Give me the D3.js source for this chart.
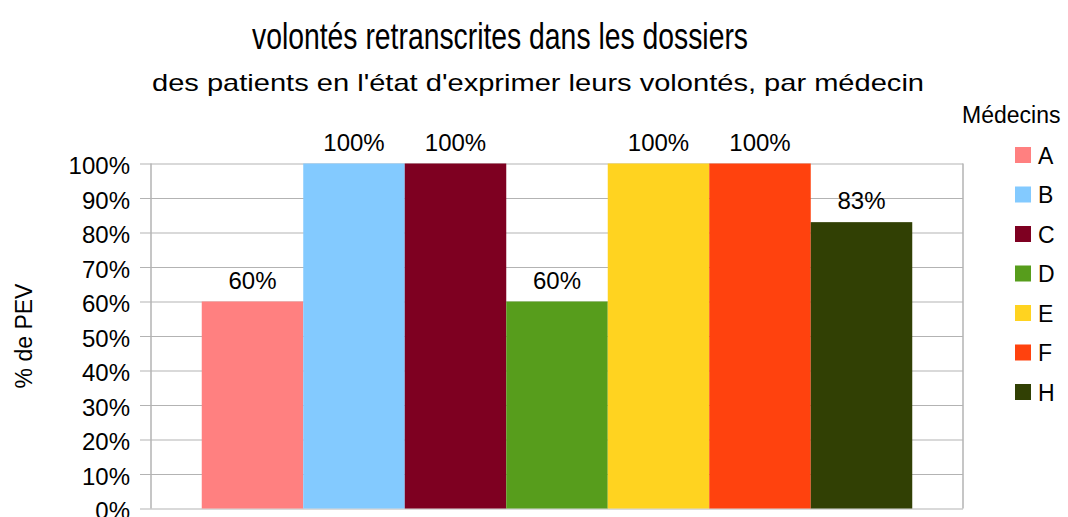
<!DOCTYPE html>
<html>
<head>
<meta charset="utf-8">
<script src="https://cdn.jsdelivr.net/npm/d3@7"></script>
<style>
  body { margin: 0; background: #fff; }
  svg { display: block; font-family: "Liberation Sans", Arial, sans-serif; }
</style>
</head>
<body>
<svg id="chart" width="1068" height="517"></svg>
<script>
// data
var medecins = ["A", "B", "C", "D", "E", "F", "H"];
var valeurs = [60, 100, 100, 60, 100, 100, 83];
var couleurs = ["#ff8080", "#83caff", "#7e0021", "#579d1c", "#ffd320", "#ff420e", "#314004"];
var yTicks = [0, 10, 20, 30, 40, 50, 60, 70, 80, 90, 100];

var titre = "volontés retranscrites dans les dossiers";
var sousTitre = "des patients en l'état d'exprimer leurs volontés, par médecin";
var titreAxeY = "% de PEV";
var titreLegende = "Médecins";

var svg = d3.select("#chart");

var plot = {left: 151, right: 963, top: 163.5, bottom: 508.5};

var x = d3.scaleBand()
          .domain(medecins)
          .range([plot.left, plot.right])
          .paddingInner(0)
          .paddingOuter(0.5);

var y = d3.scaleLinear()
          .domain([0, 100])
          .range([plot.bottom, plot.top]);

// titles
svg.append("text")
   .attr("x", 252)
   .attr("y", 49)
   .attr("font-size", 36.5)
   .attr("textLength", 496)
   .attr("lengthAdjust", "spacingAndGlyphs")
   .text(titre);

svg.append("text")
   .attr("x", 152)
   .attr("y", 91)
   .attr("font-size", 24)
   .attr("textLength", 772)
   .attr("lengthAdjust", "spacingAndGlyphs")
   .text(sousTitre);

// grid + y axis
var yAxis = d3.axisLeft(y)
              .tickValues(yTicks)
              .tickSize(plot.right - plot.left + 11)
              .tickPadding(10)
              .tickFormat(function(d){ return d + "%"; });

var gy = svg.append("g")
            .attr("transform", "translate(" + plot.right + ",0)")
            .call(yAxis);

gy.select(".domain").remove();
gy.selectAll(".tick line")
  .attr("stroke", "#b3b3b3")
  .attr("stroke-width", 1);
gy.selectAll(".tick text")
  .attr("x", -(plot.right - plot.left + 11) - 10)
  .attr("dy", "0.42em")
  .attr("font-size", 24)
  .attr("font-family", "Liberation Sans, Arial, sans-serif")
  .attr("fill", "#000");

// plot frame sides
svg.append("line")
   .attr("x1", plot.left).attr("x2", plot.left)
   .attr("y1", plot.top).attr("y2", plot.bottom)
   .attr("stroke", "#b3b3b3").attr("stroke-width", 1.5);
svg.append("line")
   .attr("x1", plot.right).attr("x2", plot.right)
   .attr("y1", plot.top).attr("y2", plot.bottom)
   .attr("stroke", "#b3b3b3").attr("stroke-width", 1.5);

// bars
var data = medecins.map(function(m, i){
  return {m: m, v: valeurs[i], c: couleurs[i]};
});

svg.append("g")
   .selectAll("rect")
   .data(data)
   .enter()
   .append("rect")
   .attr("x", function(d){ return x(d.m); })
   .attr("y", function(d){ return y(d.v); })
   .attr("width", x.bandwidth())
   .attr("height", function(d){ return y(0) - y(d.v); })
   .attr("fill", function(d){ return d.c; });

// value labels
svg.append("g")
   .selectAll("text")
   .data(data)
   .enter()
   .append("text")
   .attr("x", function(d){ return x(d.m) + x.bandwidth() / 2; })
   .attr("y", function(d){ return y(d.v) - 13; })
   .attr("text-anchor", "middle")
   .attr("font-size", 24)
   .text(function(d){ return d.v + "%"; });

// y axis title
svg.append("text")
   .attr("transform", "translate(32," + ((plot.top + plot.bottom) / 2) + ") rotate(-90)")
   .attr("text-anchor", "middle")
   .attr("font-size", 23)
   .text(titreAxeY);

// legend
svg.append("text")
   .attr("x", 962)
   .attr("y", 123)
   .attr("font-size", 23)
   .text(titreLegende);

var leg = svg.append("g")
             .selectAll("g")
             .data(data)
             .enter()
             .append("g")
             .attr("transform", function(d, i){
               return "translate(1015," + (147 + i * 39.5) + ")";
             });

leg.append("rect")
   .attr("width", 16)
   .attr("height", 16)
   .attr("fill", function(d){ return d.c; });

leg.append("text")
   .attr("x", 23)
   .attr("y", 16.5)
   .attr("font-size", 23)
   .text(function(d){ return d.m; });
</script>
</body>
</html>
